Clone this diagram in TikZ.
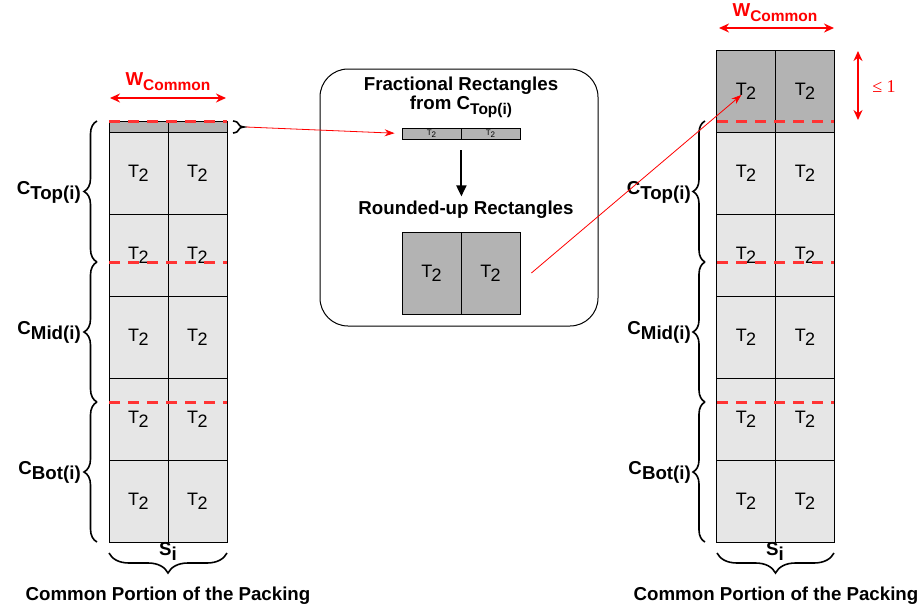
\documentclass[tikz,border=0pt]{standalone}
\usepackage{fontspec}
\setmainfont{Liberation Sans}
\newfontfamily\serifnum{Liberation Serif}
\usetikzlibrary{arrows.meta,decorations.pathreplacing}

\definecolor{cellgray}{HTML}{E6E6E6}
\definecolor{topgray}{HTML}{B3B3B3}
\definecolor{cutred}{HTML}{FF3333}

% T_2 with a full size, lowered index
\newcommand{\Tt}{T\kern-0.5pt\raisebox{-4pt}{2}}
\newcommand{\lowsub}[1]{\raisebox{-5pt}{#1}}
\newcommand{\smallsub}[1]{\raisebox{-5pt}{\fontsize{15.5}{16}\selectfont #1}}

\tikzstyle{cell}=[draw, line width=0.8pt, fill=cellgray, inner sep=0pt,
                  minimum width=59pt, minimum height=82pt,
                  font=\fontsize{18}{20}\selectfont]
\tikzstyle{topcell}=[cell, fill=topgray]
\tikzstyle{sliver}=[topcell, minimum height=11pt]
\tikzstyle{cut}=[cutred, line width=3pt, dash pattern=on 11pt off 8pt]
\tikzstyle{brc}=[decorate, decoration={brace, amplitude=13pt}, line width=1.6pt]
\tikzstyle{lbl}=[font=\bfseries\fontsize{18.7}{20}\selectfont, inner sep=1pt]
\tikzstyle{redlink}=[red, line width=0.8pt, -{Stealth[length=10pt,width=7pt]}]
\tikzstyle{wspan}=[red, line width=1.5pt,
                   {Stealth[length=10pt,width=9pt]}-{Stealth[length=10pt,width=9pt]}]

\begin{document}
\begin{tikzpicture}[x=1pt,y=-1pt]
  \useasboundingbox (0,0) rectangle (919,611);

  % left packing: thin fractional strip on top, five full rows
  \node[sliver] (L0a) at (138.5,126.5) {};
  \node[sliver] (L0b) at (197.5,126.5) {};
  \foreach \r/\y in {1/173,2/255,3/337,4/419,5/501}{
    \node[cell] (L\r a) at (138.5,\y) {\Tt};
    \node[cell] (L\r b) at (197.5,\y) {\Tt};
  }
  \draw[cut] (109,121) -- (227,121);
  \draw[cut] (109,262) -- (227,262);
  \draw[cut] (109,402) -- (227,402);

  \draw[wspan] (110,98) -- (226,98);
  \node[lbl, red] (wL) at (168,82) {W\smallsub{Common}};

  \draw[brc] (97,262) -- (97,121);
  \draw[brc] (97,402) -- (97,262);
  \draw[brc] (97,542) -- (97,402);
  \node[lbl, anchor=east] (ctopL) at (82,192) {C\lowsub{Top(i)}};
  \node[lbl, anchor=east] (cmidL) at (82,332) {C\lowsub{Mid(i)}};
  \node[lbl, anchor=east] (cbotL) at (82,472) {C\lowsub{Bot(i)}};

  \draw[brc, decoration={brace, amplitude=20pt}] (227,553) -- (109,553);
  \node[lbl] (siL) at (168,551) {S\lowsub{i}};
  \node[lbl] (capL) at (168,596) {Common Portion of the Packing};

  % small brace on the strip
  \draw[brc, decoration={brace, amplitude=11pt}] (233,121) -- (233,133);
  \coordinate (tipS) at (246,127);

  % middle panel
  \node[draw, line width=1pt, rounded corners=28pt,
        minimum width=278pt, minimum height=257pt] (box) at (459,197.5) {};
  \node[lbl] (fracT) at (461,86) {Fractional Rectangles};
  \node[lbl] (fracF) at (461,107) {from C\smallsub{Top(i)}};
  \node[sliver, font=\fontsize{8}{9}\selectfont] (F1) at (431.5,133.5) {T\raisebox{-2pt}{2}};
  \node[sliver, font=\fontsize{8}{9}\selectfont] (F2) at (490.5,133.5) {T\raisebox{-2pt}{2}};
  \draw[line width=2pt, -{Triangle[length=11pt,width=10pt]}] (F1.south east) ++(0,11) -- ++(0,46);
  \node[lbl] (rndT) at (466,210) {Rounded-up Rectangles};
  \node[topcell] (U1) at (431.5,273) {\Tt};
  \node[topcell] (U2) at (490.5,273) {\Tt};

  % right packing: rounded-up row on top
  \node[topcell] (R0a) at (746,91) {\Tt};
  \node[topcell] (R0b) at (805,91) {\Tt};
  \foreach \r/\y in {1/173,2/255,3/337,4/419,5/501}{
    \node[cell] (R\r a) at (746,\y) {\Tt};
    \node[cell] (R\r b) at (805,\y) {\Tt};
  }
  \draw[cut] (717,121) -- (834,121);
  \draw[cut] (717,262) -- (834,262);
  \draw[cut] (717,402) -- (834,402);

  \draw[wspan] (719,28) -- (834,28);
  \node[lbl, red] (wR) at (775,13) {W\smallsub{Common}};
  \draw[wspan] (858,51) -- (858,120);
  \node[red, font=\serifnum\fontsize{18}{20}\selectfont] (le1) at (884,87) {≤ 1};

  \draw[brc, decoration={brace, amplitude=12pt}] (705,262) -- (705,121);
  \draw[brc, decoration={brace, amplitude=12pt}] (705,402) -- (705,262);
  \draw[brc, decoration={brace, amplitude=12pt}] (705,542) -- (705,402);
  \node[lbl, anchor=east] (ctopR) at (692,192) {C\lowsub{Top(i)}};
  \node[lbl, anchor=east] (cmidR) at (692,332) {C\lowsub{Mid(i)}};
  \node[lbl, anchor=east] (cbotR) at (692,472) {C\lowsub{Bot(i)}};

  \draw[brc, decoration={brace, amplitude=20pt}] (834,553) -- (717,553);
  \node[lbl] (siR) at (775,551) {S\lowsub{i}};
  \node[lbl] (capR) at (776,596) {Common Portion of the Packing};

  % links
  \draw[redlink, shorten >=7pt] (tipS) -- (F1.west);
  \draw[redlink, shorten >=6pt] ([xshift=11pt]U2.east) -- (R0a.center);
\end{tikzpicture}
\end{document}
